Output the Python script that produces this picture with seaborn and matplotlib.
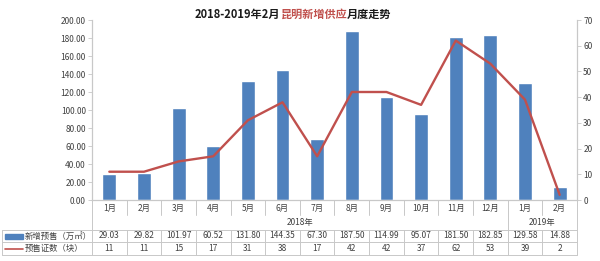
import matplotlib
matplotlib.use("Agg")
import matplotlib.pyplot as plt
from matplotlib.patches import Rectangle
from matplotlib.ticker import FormatStrFormatter, MultipleLocator
import seaborn as sns
import pandas as pd

months = ["1月", "2月", "3月", "4月", "5月", "6月", "7月", "8月", "9月", "10月", "11月", "12月", "1月", "2月"]
years = ["2018年", "2019年"]
supply = [29.03, 29.82, 101.97, 60.52, 131.80, 144.35, 67.30, 187.50, 114.99, 95.07, 181.50, 182.85, 129.58, 14.88]
permits = [11, 11, 15, 17, 31, 38, 17, 42, 42, 37, 62, 53, 39, 2]
series_names = ["新增预售（万㎡）", "预售证数（块）"]
title_parts = ["2018-2019年2月", "昆明新增供应", "月度走势"]

BLUE = "#4f81bd"
RED = "#c0504d"
GRID = "#c8c8c8"
TXT = "#404040"

sns.set_theme(style="white")
plt.rcParams['font.family'] = ['Noto Sans CJK SC', 'DejaVu Sans']

W, H = 600, 261
fig = plt.figure(figsize=(6, 2.61), dpi=100)
L, R, T, B = 92, 577, 20, 200
ax = fig.add_axes([L / W, 1 - B / H, (R - L) / W, (B - T) / H])

df = pd.DataFrame({"idx": list(range(len(months))), "supply": supply, "permits": permits})
sns.barplot(data=df, x="idx", y="supply", color=BLUE, width=0.4, saturation=1, ax=ax)
ax2 = ax.twinx()
sns.lineplot(data=df, x="idx", y="permits", color=RED, lw=1.7, ax=ax2)

for a in (ax, ax2):
    a.set_xlim(-0.5, len(months) - 0.5)
    a.set_xlabel("")
    a.set_ylabel("")
    a.set_xticks([])
    for s in a.spines.values():
        s.set_color(GRID)
        s.set_linewidth(0.8)
    a.spines["top"].set_visible(False)
    a.tick_params(axis="y", length=3, width=0.6, color=GRID, labelsize=6, labelcolor=TXT, pad=1.5)

ax.set_ylim(0, 200)
ax.yaxis.set_major_locator(MultipleLocator(20))
ax.yaxis.set_major_formatter(FormatStrFormatter("%.2f"))
ax2.set_ylim(0, 70)
ax2.yaxis.set_major_locator(MultipleLocator(10))

# data table below axis
tr = ax.get_xaxis_transform()
ph = B - T
def yf(p):
    return (B - p) / ph
colw = (R - L) / len(months)
def xd(p):
    return -0.5 + (p - L) / colw

def seg(x0, x1, y0, y1):
    ax.plot([x0, x1], [y0, y1], transform=tr, clip_on=False, color=GRID, lw=0.7)

n = len(months)
for k in range(n + 1):
    xb = k - 0.5
    if k == 0 or k == n or k == 12:
        seg(xb, xb, 0, yf(255))
    else:
        seg(xb, xb, 0, yf(215))
        seg(xb, xb, yf(230), yf(255))
x0 = xd(2)
for yp in (230, 242, 255):
    seg(x0, n - 0.5, yf(yp), yf(yp))
seg(x0, x0, yf(230), yf(255))

FS = 6
for i, m in enumerate(months):
    ax.text(i, yf(208), m, transform=tr, ha="center", va="center", fontsize=FS, color=TXT, clip_on=False)
ax.text(5.5, yf(222), years[0], transform=tr, ha="center", va="center", fontsize=FS, color=TXT)
ax.text(12.5, yf(222), years[1], transform=tr, ha="center", va="center", fontsize=FS, color=TXT)
for i in range(n):
    ax.text(i, yf(236), f"{supply[i]:.2f}", transform=tr, ha="center", va="center", fontsize=FS, color=TXT)
    ax.text(i, yf(248.5), f"{permits[i]}", transform=tr, ha="center", va="center", fontsize=FS, color=TXT)

ax.add_patch(Rectangle((xd(5), yf(238.5)), xd(23) - xd(5), yf(233.5) - yf(238.5),
                       transform=tr, color=BLUE, clip_on=False))
ax.plot([xd(5), xd(23)], [yf(248.5), yf(248.5)], transform=tr, color=RED, lw=1.2, clip_on=False)
ax.text(xd(25), yf(236), series_names[0], transform=tr, ha="left", va="center", fontsize=FS, color=TXT)
ax.text(xd(25), yf(248.5), series_names[1], transform=tr, ha="left", va="center", fontsize=FS, color=TXT)

# title with colored middle part
fig.canvas.draw()
renderer = fig.canvas.get_renderer()
colors = ["#1a1a1a", RED, "#1a1a1a"]
xpos = 195
for part, c in zip(title_parts, colors):
    t = fig.text(xpos / W, 1 - 14 / H, part, ha="left", va="center", fontsize=8,
                 fontweight="bold", color=c)
    bb = t.get_window_extent(renderer)
    xpos += bb.width

fig.savefig("out.png", dpi=100)
